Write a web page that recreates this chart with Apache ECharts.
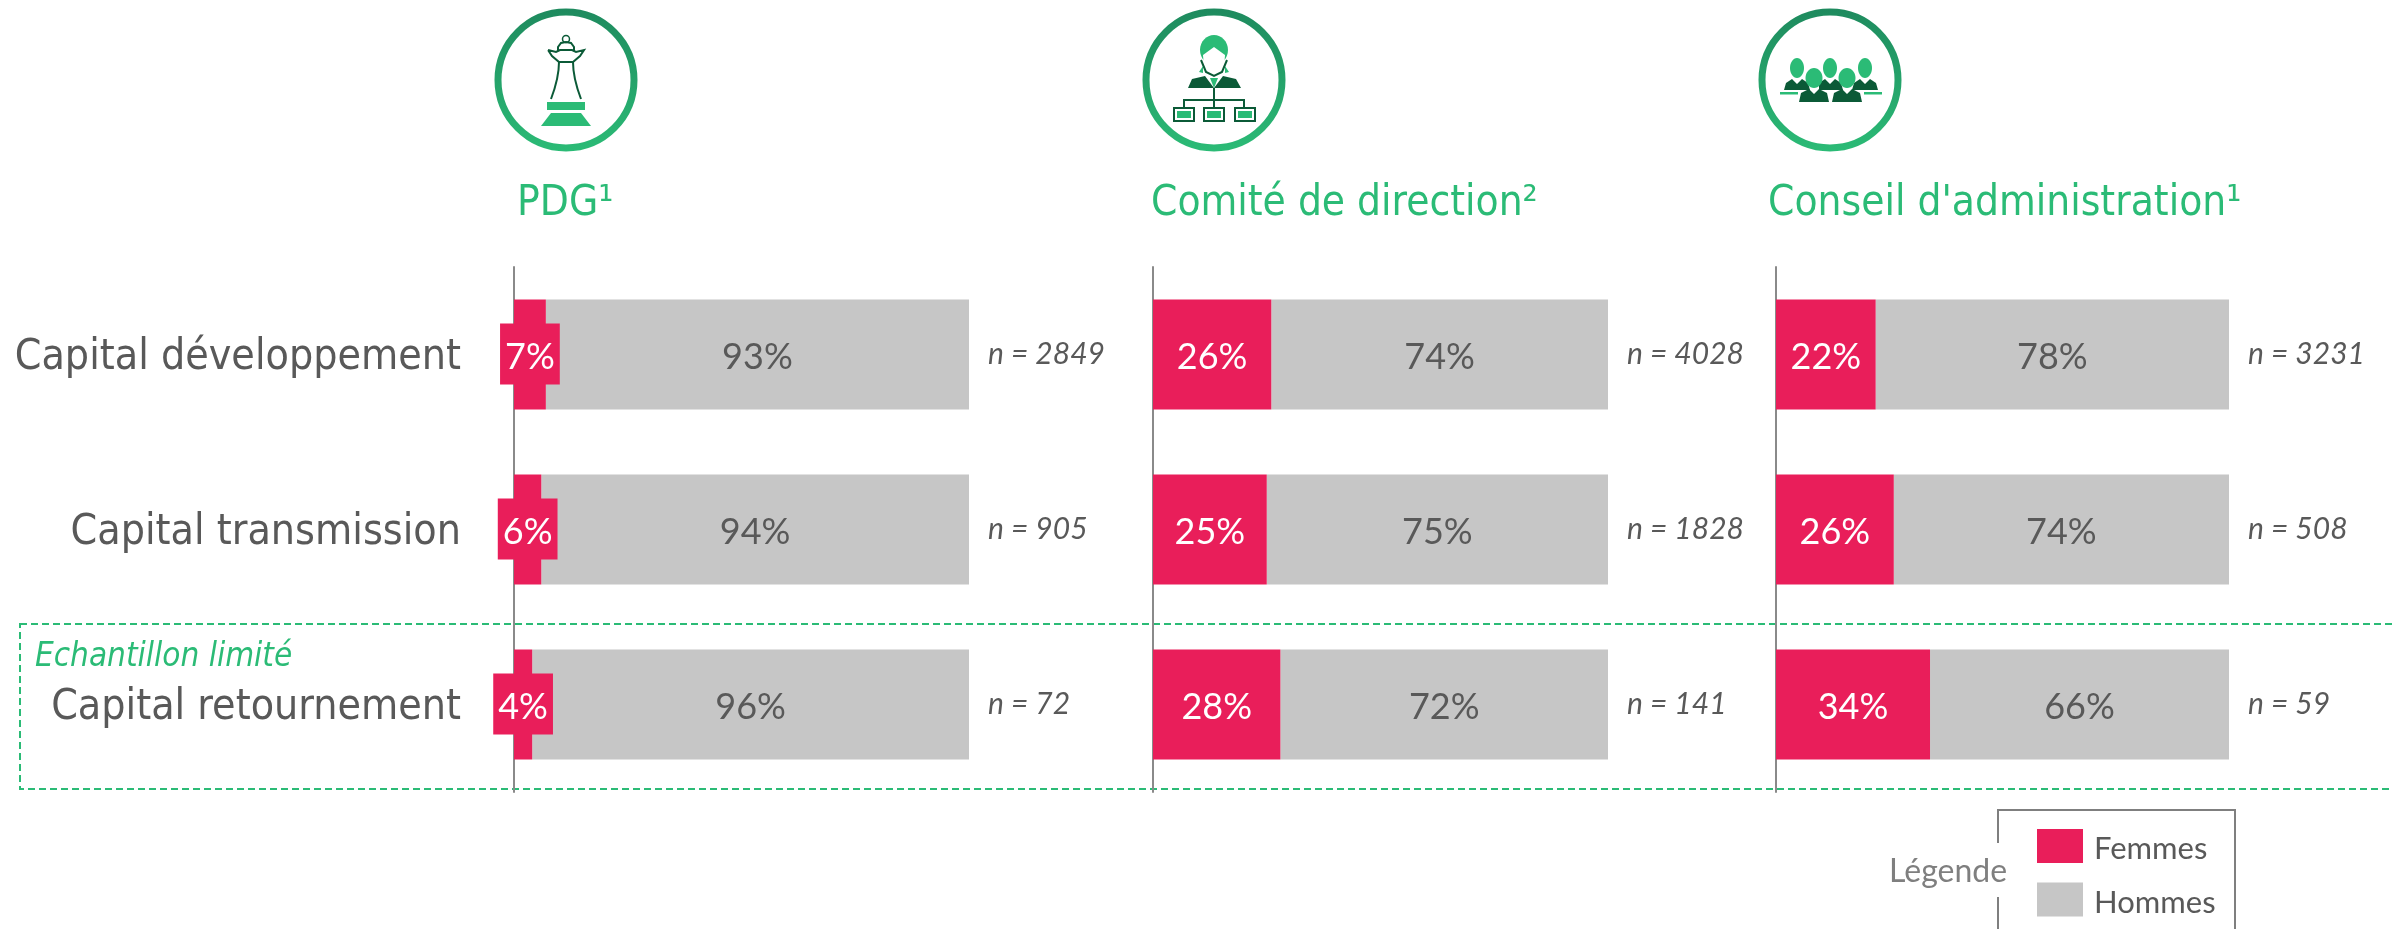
<!DOCTYPE html>
<html><head><meta charset="utf-8">
<style>html,body{margin:0;padding:0;background:#fff}#c{width:2392px;height:929px}</style>
<script src="https://cdn.jsdelivr.net/npm/echarts@6/dist/echarts.min.js"></script>
</head><body><div id="c"></div>
<script>
const categories = ['Capital développement', 'Capital transmission', 'Capital retournement'];
const panelTitles = ['PDG¹', 'Comité de direction²', "Conseil d'administration¹"];
const femmesPDG = [7, 6, 4];
const hommesPDG = [93, 94, 96];
const femmesComite = [26, 25, 28];
const hommesComite = [74, 75, 72];
const femmesConseil = [22, 26, 34];
const hommesConseil = [78, 74, 66];
const nPDG = ['n = 2849', 'n = 905', 'n = 72'];
const nComite = ['n = 4028', 'n = 1828', 'n = 141'];
const nConseil = ['n = 3231', 'n = 508', 'n = 59'];
const legendNames = ['Femmes', 'Hommes'];

const PINK = '#E91E5A', GREY = '#C6C6C6', TEXT = '#595959', GREEN = '#2BBB76', DARK = '#0B5A37';
const FONT = '"DejaVu Sans Condensed", "DejaVu Sans"', NUM = 'Lato';
const panels = [
  {left: 514, width: 455, f: femmesPDG, h: hommesPDG, n: nPDG},
  {left: 1153, width: 455, f: femmesComite, h: hommesComite, n: nComite},
  {left: 1776, width: 453, f: femmesConseil, h: hommesConseil, n: nConseil}
];

const grid = [], xAxis = [], yAxis = [], series = [];
panels.forEach((p, i) => {
  grid.push({left: p.left, width: p.width, top: 267, height: 525});
  xAxis.push({type: 'value', gridIndex: i, min: 0, max: 100, show: false});
  yAxis.push({
    type: 'category', gridIndex: i, inverse: true, data: categories, position: 'left',
    axisLine: {show: true, lineStyle: {color: '#8A8A8A', width: 2}}, axisTick: {show: false},
    axisLabel: i === 0 ? {
      show: true, margin: 53, formatter: v => '{a|' + v + '}',
      rich: {a: {color: TEXT, fontFamily: FONT, fontSize: 42.5, padding: [6, 0, 0, 0]}}
    } : {show: false}
  });
  yAxis.push({
    type: 'category', gridIndex: i, inverse: true, data: p.n, position: 'right',
    axisLine: {show: false}, axisTick: {show: false},
    axisLabel: {show: true, color: TEXT, fontFamily: NUM, fontStyle: 'italic', fontSize: 30, margin: 19, align: 'left'}
  });
  const ya = i * 2;
  series.push({
    name: legendNames[0], type: 'bar', stack: 's' + i, xAxisIndex: i, yAxisIndex: ya, data: p.f, barWidth: 110,
    itemStyle: {color: PINK}, z: 3,
    label: {show: true, position: 'inside', offset: [0, 3], formatter: '{c}%', color: '#fff', fontFamily: NUM, fontSize: 36}
  });
  series.push({
    name: legendNames[1], type: 'bar', stack: 's' + i, xAxisIndex: i, yAxisIndex: ya, data: p.h, barWidth: 110,
    itemStyle: {color: GREY}, z: 2,
    label: {show: true, position: 'inside', offset: [0, 3], formatter: '{c}%', color: TEXT, fontFamily: NUM, fontSize: 36}
  });
});
// Narrow PDG bars: the value sits on a pink box wider than the bar
series[0].label.backgroundColor = PINK;
series[0].label.verticalAlign = 'top';
series[0].label.offset = [0, -31];
series[0].label.padding = [16, 5, 9, 5];

function ring(cx) {
  return {
    type: 'circle', shape: {cx: cx, cy: 80, r: 68}, z: 1,
    style: {fill: 'none', lineWidth: 7, stroke: new echarts.graphic.LinearGradient(0, 0, 0, 1, [
      {offset: 0, color: '#1E8A5E'}, {offset: 1, color: GREEN}])}
  };
}
const line = (pts, w) => ({type: 'polyline', shape: {points: pts}, style: {fill: 'none', stroke: DARK, lineWidth: w || 2}});
const poly = (pts, c) => ({type: 'polygon', shape: {points: pts}, style: {fill: c}});
const rect = (x, y, w, h, c) => ({type: 'rect', shape: {x, y, width: w, height: h}, style: {fill: c}});
const ell = (cx, cy, rx, ry, c) => ({type: 'ellipse', shape: {cx, cy, rx, ry}, style: {fill: c}});

const chess = [
  {type: 'circle', shape: {cx: 566, cy: 39, r: 3.5}, style: {fill: '#fff', stroke: DARK, lineWidth: 1.5}},
  line([[558, 51], [558, 47], [561, 43], [566, 42], [571, 43], [574, 47], [574, 51]]),
  line([[548, 50], [556, 52], [560, 50], [572, 50], [576, 52], [584, 50], [580, 56], [573, 62], [559, 62], [552, 56], [548, 50]]),
  {type: 'bezierCurve', shape: {x1: 559, y1: 62, cpx1: 559, cpy1: 78, x2: 551, y2: 99}, style: {fill: 'none', stroke: DARK, lineWidth: 2}},
  {type: 'bezierCurve', shape: {x1: 573, y1: 62, cpx1: 573, cpy1: 78, x2: 581, y2: 99}, style: {fill: 'none', stroke: DARK, lineWidth: 2}},
  rect(547, 102, 38, 8, GREEN),
  poly([[551, 113], [581, 113], [591, 126], [541, 126]], GREEN)
];
function orgBox(x) {
  return [rect(x, 107, 22, 15, DARK), rect(x + 2, 109, 18, 11, '#fff'), rect(x + 4, 111, 14, 7, GREEN)];
}
const director = [
  ell(1214, 50, 14, 15, GREEN),
  poly([[1203, 55], [1214, 47], [1225, 55], [1224, 68], [1214, 74], [1204, 68]], '#fff'),
  line([[1201, 60], [1206, 72], [1214, 76], [1222, 72], [1227, 60]]),
  poly([[1199, 72], [1203, 66], [1203, 73]], GREEN),
  poly([[1229, 72], [1225, 66], [1225, 73]], GREEN),
  poly([[1188, 88], [1192, 79], [1205, 76], [1214, 88], [1223, 76], [1236, 79], [1241, 88]], DARK),
  poly([[1210, 78], [1218, 78], [1214, 88]], GREEN),
  line([[1214, 88], [1214, 107]]),
  line([[1184, 107], [1184, 100], [1244, 100], [1244, 107]]),
  ...orgBox(1173), ...orgBox(1203), ...orgBox(1234)
];
function person(cx, top, w, hw, hh, front) {
  const base = top + hh * 2 + (front ? 14 : 12), neck = top + hh * 2 + 1;
  return [
    poly([[cx - w / 2, base], [cx - w / 2 + 2, neck + 4], [cx - 5, neck], [cx, neck + 5], [cx + 5, neck], [cx + w / 2 - 2, neck + 4], [cx + w / 2, base]], DARK),
    ell(cx, top + hh, hw, hh, GREEN)
  ];
}
const board = [
  ...person(1797, 58, 26, 7, 10, false),
  ...person(1830, 58, 26, 7, 10, false),
  ...person(1865, 58, 26, 7, 10, false),
  rect(1780, 92, 18, 2.5, GREEN), rect(1864, 92, 18, 2.5, GREEN),
  rect(1811, 66, 8, 32, '#fff'), rect(1844, 66, 8, 32, '#fff'),
  ...person(1814, 68, 30, 8.5, 10, true),
  ...person(1847, 68, 30, 8.5, 10, true)
];

const titleText = (x, t) => ({
  type: 'text', left: x, top: 183, z: 5,
  style: {text: t, fill: GREEN, font: '42px ' + FONT}
});

const graphic = [
  {type: 'rect', z: 0, shape: {x: 20, y: 624, width: 2400, height: 165},
    style: {fill: 'none', stroke: GREEN, lineWidth: 2, lineDash: [7, 4]}},
  {type: 'text', left: 35, top: 641, z: 5,
    style: {text: 'Echantillon limité', fill: GREEN, font: 'italic 33px ' + FONT}},
  ring(566), ring(1214), ring(1830),
  {type: 'group', children: chess}, {type: 'group', children: director}, {type: 'group', children: board},
  titleText(517, panelTitles[0]), titleText(1151, panelTitles[1]), titleText(1768, panelTitles[2]),
  {type: 'polyline', shape: {points: [[1998, 843], [1998, 810], [2235, 810], [2235, 929]]},
    style: {fill: 'none', stroke: '#7F7F7F', lineWidth: 2}},
  {type: 'line', shape: {x1: 1998, y1: 897, x2: 1998, y2: 929}, style: {stroke: '#7F7F7F', lineWidth: 2}},
  {type: 'text', left: 1889, top: 856, style: {text: 'Légende', fill: '#7F7F7F', font: '32px ' + NUM}}
];

const chart = echarts.init(document.getElementById('c'), null, {renderer: 'canvas'});
chart.setOption({
  animation: false, backgroundColor: '#fff',
  grid, xAxis, yAxis, series, graphic,
  legend: {
    data: legendNames, orient: 'vertical', left: 2037, top: 829, padding: 0, itemWidth: 46, itemHeight: 34, itemGap: 18,
    icon: 'rect', selectedMode: false, formatter: '{a|{name}}',
    textStyle: {rich: {a: {color: TEXT, fontFamily: NUM, fontSize: 31, padding: [6, 0, 0, 6]}}}
  }
});
</script></body></html>
